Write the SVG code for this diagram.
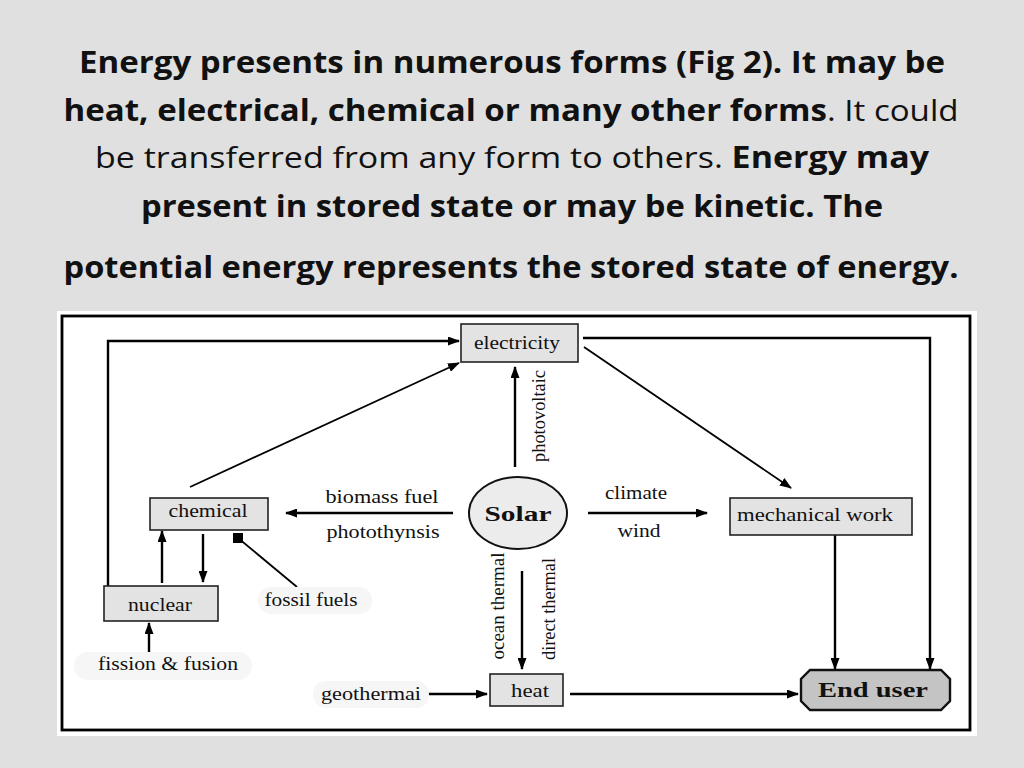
<svg xmlns="http://www.w3.org/2000/svg" width="1024" height="768" viewBox="0 0 1024 768">
<style>
.title{font-family:"Open Sans","Liberation Sans",sans-serif;font-size:30px;fill:#111;text-anchor:middle}
.b{font-weight:bold}
.r{font-weight:normal}
.box{fill:#e3e3e3;stroke:#222;stroke-width:1.6}
.lbl{font-family:"Liberation Serif","Times New Roman",serif;font-size:18px;fill:#111;text-anchor:middle}
.big{font-family:"Liberation Serif","Times New Roman",serif;font-size:22px;font-weight:bold;fill:#111;text-anchor:middle}
.con{fill:none;stroke:#000;stroke-width:2.4}
.thin{fill:none;stroke:#000;stroke-width:1.8}
.pill{fill:#f6f6f6}
</style>
<defs>
<marker id="ah" markerUnits="userSpaceOnUse" markerWidth="12" markerHeight="9" refX="11" refY="4.5" orient="auto">
<path d="M0,0 L12,4.5 L0,9 z" fill="#000"/>
</marker>
<marker id="sq" markerUnits="userSpaceOnUse" markerWidth="10" markerHeight="10" refX="5" refY="5" orient="0">
<rect x="0" y="0" width="10" height="10" fill="#000"/>
</marker>
</defs>
<rect x="0" y="0" width="1024" height="768" fill="#e0e0e0"/>
<g id="title">
<text class="title b" x="512" y="73" textLength="866" lengthAdjust="spacingAndGlyphs">Energy presents in numerous forms (Fig 2). It may be</text>
<text class="title" x="511" y="121" textLength="895" lengthAdjust="spacingAndGlyphs"><tspan class="b">heat, electrical, chemical or many other forms</tspan><tspan class="r">. It could</tspan></text>
<text class="title" x="512" y="168" textLength="834" lengthAdjust="spacingAndGlyphs"><tspan class="r">be transferred from any form to others. </tspan><tspan class="b">Energy may</tspan></text>
<text class="title b" x="512" y="217" textLength="742" lengthAdjust="spacingAndGlyphs">present in stored state or may be kinetic. The</text>
<text class="title b" x="511" y="278" textLength="895" lengthAdjust="spacingAndGlyphs">potential energy represents the stored state of energy.</text>
</g>
<g id="figure-frame">
<rect x="57" y="311" width="920" height="425" fill="#fff"/>
<rect x="62" y="316" width="908" height="414" fill="none" stroke="#000" stroke-width="2.8"/>
</g>
<g id="connectors">
<path class="con" d="M108,586 V341 H459" marker-end="url(#ah)"/>
<path class="thin" d="M190,487 L459,363" marker-end="url(#ah)"/>
<path class="con" d="M515,467 V367" marker-end="url(#ah)"/>
<path class="con" d="M583,338 H930 V669" marker-end="url(#ah)"/>
<path class="thin" d="M584,347 L791,488" marker-end="url(#ah)"/>
<path class="con" d="M453,513 H286" marker-end="url(#ah)"/>
<path class="con" d="M588,513 H707" marker-end="url(#ah)"/>
<path class="con" d="M835,535 V669" marker-end="url(#ah)"/>
<path class="con" d="M522,571 V669" marker-end="url(#ah)"/>
<path class="con" d="M570,694 H798" marker-end="url(#ah)"/>
<path class="con" d="M426,694 H487" marker-end="url(#ah)"/>
<path class="con" d="M162,583 V531" marker-end="url(#ah)"/>
<path class="con" d="M203,534 V582" marker-end="url(#ah)"/>
<path class="thin" d="M297,587 L238,538" marker-end="url(#sq)"/>
<path class="con" d="M149,653 V623" marker-end="url(#ah)"/>
</g>
<g id="electricity">
<rect class="box" x="461" y="324" width="117" height="38"/>
<text class="lbl" x="517" y="349" textLength="86" lengthAdjust="spacingAndGlyphs">electricity</text>
</g>
<g id="chemical">
<rect class="box" x="150" y="498" width="118" height="32"/>
<text class="lbl" x="208" y="517" textLength="79" lengthAdjust="spacingAndGlyphs">chemical</text>
</g>
<g id="solar">
<ellipse cx="518" cy="513" rx="49" ry="36" fill="#ececec" stroke="#111" stroke-width="2"/>
<text class="big" x="518" y="521" textLength="67" lengthAdjust="spacingAndGlyphs">Solar</text>
</g>
<g id="mechanical-work">
<rect class="box" x="730" y="498" width="182" height="37"/>
<text class="lbl" x="815" y="521" textLength="156" lengthAdjust="spacingAndGlyphs">mechanical work</text>
</g>
<g id="nuclear">
<rect class="box" x="104" y="586" width="114" height="35"/>
<text class="lbl" x="160" y="611" textLength="64" lengthAdjust="spacingAndGlyphs">nuclear</text>
</g>
<g id="heat">
<rect class="box" x="490" y="674" width="73" height="32"/>
<text class="lbl" x="530" y="697" textLength="38" lengthAdjust="spacingAndGlyphs">heat</text>
</g>
<g id="end-user">
<path d="M810,670 H941 L950,679 V701 L941,710 H810 L801,701 V679 Z" fill="#c4c4c4" stroke="#111" stroke-width="2.4"/>
<text class="big" x="873" y="697" textLength="110" lengthAdjust="spacingAndGlyphs">End user</text>
</g>
<g id="fossil-fuels">
<rect class="pill" x="258" y="587" width="114" height="27" rx="13"/>
<text class="lbl" x="311" y="606" textLength="93" lengthAdjust="spacingAndGlyphs">fossil fuels</text>
</g>
<g id="fission-fusion">
<rect class="pill" x="74" y="652" width="178" height="28" rx="14"/>
<text class="lbl" x="168" y="670" textLength="140" lengthAdjust="spacingAndGlyphs">fission &amp; fusion</text>
</g>
<g id="geothermal">
<rect class="pill" x="313" y="681" width="116" height="27" rx="13"/>
<text class="lbl" x="371" y="700" textLength="100" lengthAdjust="spacingAndGlyphs">geothermai</text>
</g>
<g id="edge-labels">
<text class="lbl" x="382" y="503" textLength="113" lengthAdjust="spacingAndGlyphs">biomass fuel</text>
<text class="lbl" x="383" y="538" textLength="113" lengthAdjust="spacingAndGlyphs">photothynsis</text>
<text class="lbl" x="636" y="499" textLength="62" lengthAdjust="spacingAndGlyphs">climate</text>
<text class="lbl" x="639" y="537" textLength="43" lengthAdjust="spacingAndGlyphs">wind</text>
<text class="lbl" transform="translate(545,416) rotate(-90)" x="0" y="0" textLength="92" lengthAdjust="spacingAndGlyphs">photovoltaic</text>
<text class="lbl" transform="translate(504,606) rotate(-90)" x="0" y="0" textLength="107" lengthAdjust="spacingAndGlyphs">ocean thermal</text>
<text class="lbl" transform="translate(555,609) rotate(-90)" x="0" y="0" textLength="102" lengthAdjust="spacingAndGlyphs">direct thermal</text>
</g>
</svg>
